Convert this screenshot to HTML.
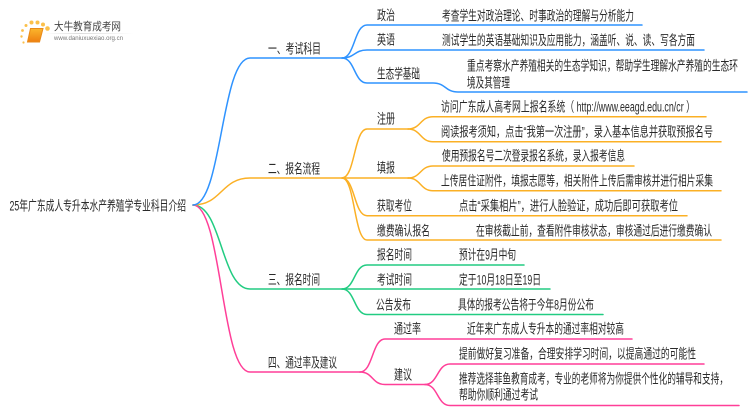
<!DOCTYPE html>
<html><head><meta charset="utf-8">
<style>
html,body{margin:0;padding:0;background:#fff;width:750px;height:410px;overflow:hidden}
svg{display:block;filter:blur(0.3px)}
text{font-family:"Liberation Sans","Noto Sans CJK SC",sans-serif;font-size:13.5px;fill:#2a2a2a;dominant-baseline:central}
path{fill:none;stroke-width:1.5;stroke-linecap:round}
.b path{stroke:#2f93ff}.o path{stroke:#fbb025}.g path{stroke:#22cc82}.p path{stroke:#ff3f98}
</style></head><body>
<svg width="750" height="410" viewBox="0 0 750 410" xmlns="http://www.w3.org/2000/svg">
<defs><linearGradient id="bk" x1="0" y1="0" x2="0" y2="1"><stop offset="0" stop-color="#fbb62c"/><stop offset="1" stop-color="#ee7f10"/></linearGradient>
<linearGradient id="ln" x1="0" x2="1"><stop offset="0" stop-color="#ddd" stop-opacity="0"/><stop offset=".4" stop-color="#ddd"/><stop offset="1" stop-color="#ddd" stop-opacity="0"/></linearGradient></defs>
<!-- logo -->
<g fill="#fbc04a"><circle cx="47.500" cy="28.500" r="2.300"/><circle cx="37.500" cy="22.500" r="2"/><circle cx="31.500" cy="22.500" r="2"/><circle cx="43" cy="24.500" r="2"/><circle cx="26" cy="25.500" r="1.500"/><circle cx="22.500" cy="30.500" r="1.400"/><circle cx="21.500" cy="36.500" r="1.200"/><circle cx="23.500" cy="42.500" r="1.100"/></g>
<path d="M30.500 28.500H43L39.500 42H27.500Z" style="fill:url(#bk);stroke:#e98a18;stroke-width:1"/>
<rect x="45" y="33" width="88" height="1" fill="url(#ln)"/>
<text x="54" y="27" textLength="67" lengthAdjust="spacingAndGlyphs" style="font-size:11px;fill:#444">大牛教育成考网</text>
<text x="54" y="38.500" textLength="69" lengthAdjust="spacingAndGlyphs" style="font-size:6.500px;fill:#777">www.daniuxuexiao.org.cn</text>

<g class="g"><path d="M193 205C222 205 221 289 250 289H342"/><path d="M342 289C355 289 354 265 367 265H524"/><path d="M342 289H550"/><path d="M342 289C355 289 354 314.500 367 314.500H603"/></g>
<g class="p"><path d="M193 205C222 205 221 372 250 372H360"/><path d="M360 372C373 372 372 339 385 339H632"/><path d="M360 372C373 372 372 384.500 385 384.500H425"/><path d="M425 384.500C438 384.500 437 364 450 364H704"/><path d="M425 384.500C438 384.500 437 405.500 450 405.500H739"/></g>
<g class="o"><path d="M193 205C222 205 221 178 250 178H342"/><path d="M342 178C355 178 354 129 367 129H408"/><path d="M342 178H408"/><path d="M342 178C355 178 354 215.700 367 215.700H687"/><path d="M342 178C355 178 354 240 367 240H721"/><path d="M408 129C421 129 420 116.700 433 116.700H706"/><path d="M408 129C421 129 420 141.700 433 141.700H721"/><path d="M408 178C421 178 420 166 433 166H634"/><path d="M408 178C421 178 420 190.700 433 190.700H721"/></g>
<g class="b"><path d="M193 205C222 205 221 58 250 58H342"/><path d="M342 58C355 58 354 25 367 25H642"/><path d="M342 58C355 58 354 50 367 50H704"/><path d="M342 58C355 58 354 83 367 83H433C446 83 445 92 458 92H747"/></g>

<text x="9.500" y="206" textLength="176.500" lengthAdjust="spacingAndGlyphs">25年广东成人专升本水产养殖学专业科目介绍</text>
<text x="268" y="49" textLength="53" lengthAdjust="spacingAndGlyphs">一、考试科目</text>
<text x="268" y="169" textLength="52" lengthAdjust="spacingAndGlyphs">二、报名流程</text>
<text x="268" y="280" textLength="52" lengthAdjust="spacingAndGlyphs">三、报名时间</text>
<text x="268" y="363" textLength="69" lengthAdjust="spacingAndGlyphs">四、通过率及建议</text>
<text x="377" y="15.500" textLength="18" lengthAdjust="spacingAndGlyphs">政治</text>
<text x="377" y="40" textLength="18" lengthAdjust="spacingAndGlyphs">英语</text>
<text x="377" y="74" textLength="43" lengthAdjust="spacingAndGlyphs">生态学基础</text>
<text x="377" y="119" textLength="18" lengthAdjust="spacingAndGlyphs">注册</text>
<text x="377" y="168" textLength="18" lengthAdjust="spacingAndGlyphs">填报</text>
<text x="377" y="206" textLength="35" lengthAdjust="spacingAndGlyphs">获取考位</text>
<text x="377" y="231" textLength="53" lengthAdjust="spacingAndGlyphs">缴费确认报名</text>
<text x="377" y="255" textLength="35" lengthAdjust="spacingAndGlyphs">报名时间</text>
<text x="377" y="280" textLength="35" lengthAdjust="spacingAndGlyphs">考试时间</text>
<text x="376" y="305" textLength="35" lengthAdjust="spacingAndGlyphs">公告发布</text>
<text x="394" y="329" textLength="27" lengthAdjust="spacingAndGlyphs">通过率</text>
<text x="394" y="375" textLength="18" lengthAdjust="spacingAndGlyphs">建议</text>
<text x="442" y="16" textLength="192" lengthAdjust="spacingAndGlyphs">考查学生对政治理论、时事政治的理解与分析能力</text>
<text x="442" y="40.500" textLength="253" lengthAdjust="spacingAndGlyphs">测试学生的英语基础知识及应用能力，涵盖听、说、读、写各方面</text>
<text x="467" y="66" textLength="271" lengthAdjust="spacingAndGlyphs">重点考察水产养殖相关的生态学知识，帮助学生理解水产养殖的生态环</text>
<text x="467" y="83" textLength="43" lengthAdjust="spacingAndGlyphs">境及其管理</text>
<text x="441" y="107" textLength="254" lengthAdjust="spacingAndGlyphs">访问广东成人高考网上报名系统（ http://www.eeagd.edu.cn/cr ）</text>
<text x="441" y="132" textLength="272" lengthAdjust="spacingAndGlyphs">阅读报考须知，点击“我第一次注册”，录入基本信息并获取预报名号</text>
<text x="442" y="156" textLength="183" lengthAdjust="spacingAndGlyphs">使用预报名号二次登录报名系统，录入报考信息</text>
<text x="441" y="181" textLength="272" lengthAdjust="spacingAndGlyphs">上传居住证附件，填报志愿等，相关附件上传后需审核并进行相片采集</text>
<text x="459" y="206" textLength="219" lengthAdjust="spacingAndGlyphs">点击“采集相片”，进行人脸验证，成功后即可获取考位</text>
<text x="476" y="231" textLength="236" lengthAdjust="spacingAndGlyphs">在审核截止前，查看附件审核状态，审核通过后进行缴费确认</text>
<text x="459" y="255" textLength="57" lengthAdjust="spacingAndGlyphs">预计在9月中旬</text>
<text x="459" y="280" textLength="82" lengthAdjust="spacingAndGlyphs">定于10月18日至19日</text>
<text x="458" y="305" textLength="136" lengthAdjust="spacingAndGlyphs">具体的报考公告将于今年8月份公布</text>
<text x="467" y="329" textLength="157" lengthAdjust="spacingAndGlyphs">近年来广东成人专升本的通过率相对较高</text>
<text x="459" y="354" textLength="237" lengthAdjust="spacingAndGlyphs">提前做好复习准备，合理安排学习时间，以提高通过的可能性</text>
<text x="459" y="379" textLength="269" lengthAdjust="spacingAndGlyphs">推荐选择菲鱼教育成考，专业的老师将为你提供个性化的辅导和支持，</text>
<text x="459" y="395" textLength="79" lengthAdjust="spacingAndGlyphs">帮助你顺利通过考试</text>
</svg>
</body></html>
